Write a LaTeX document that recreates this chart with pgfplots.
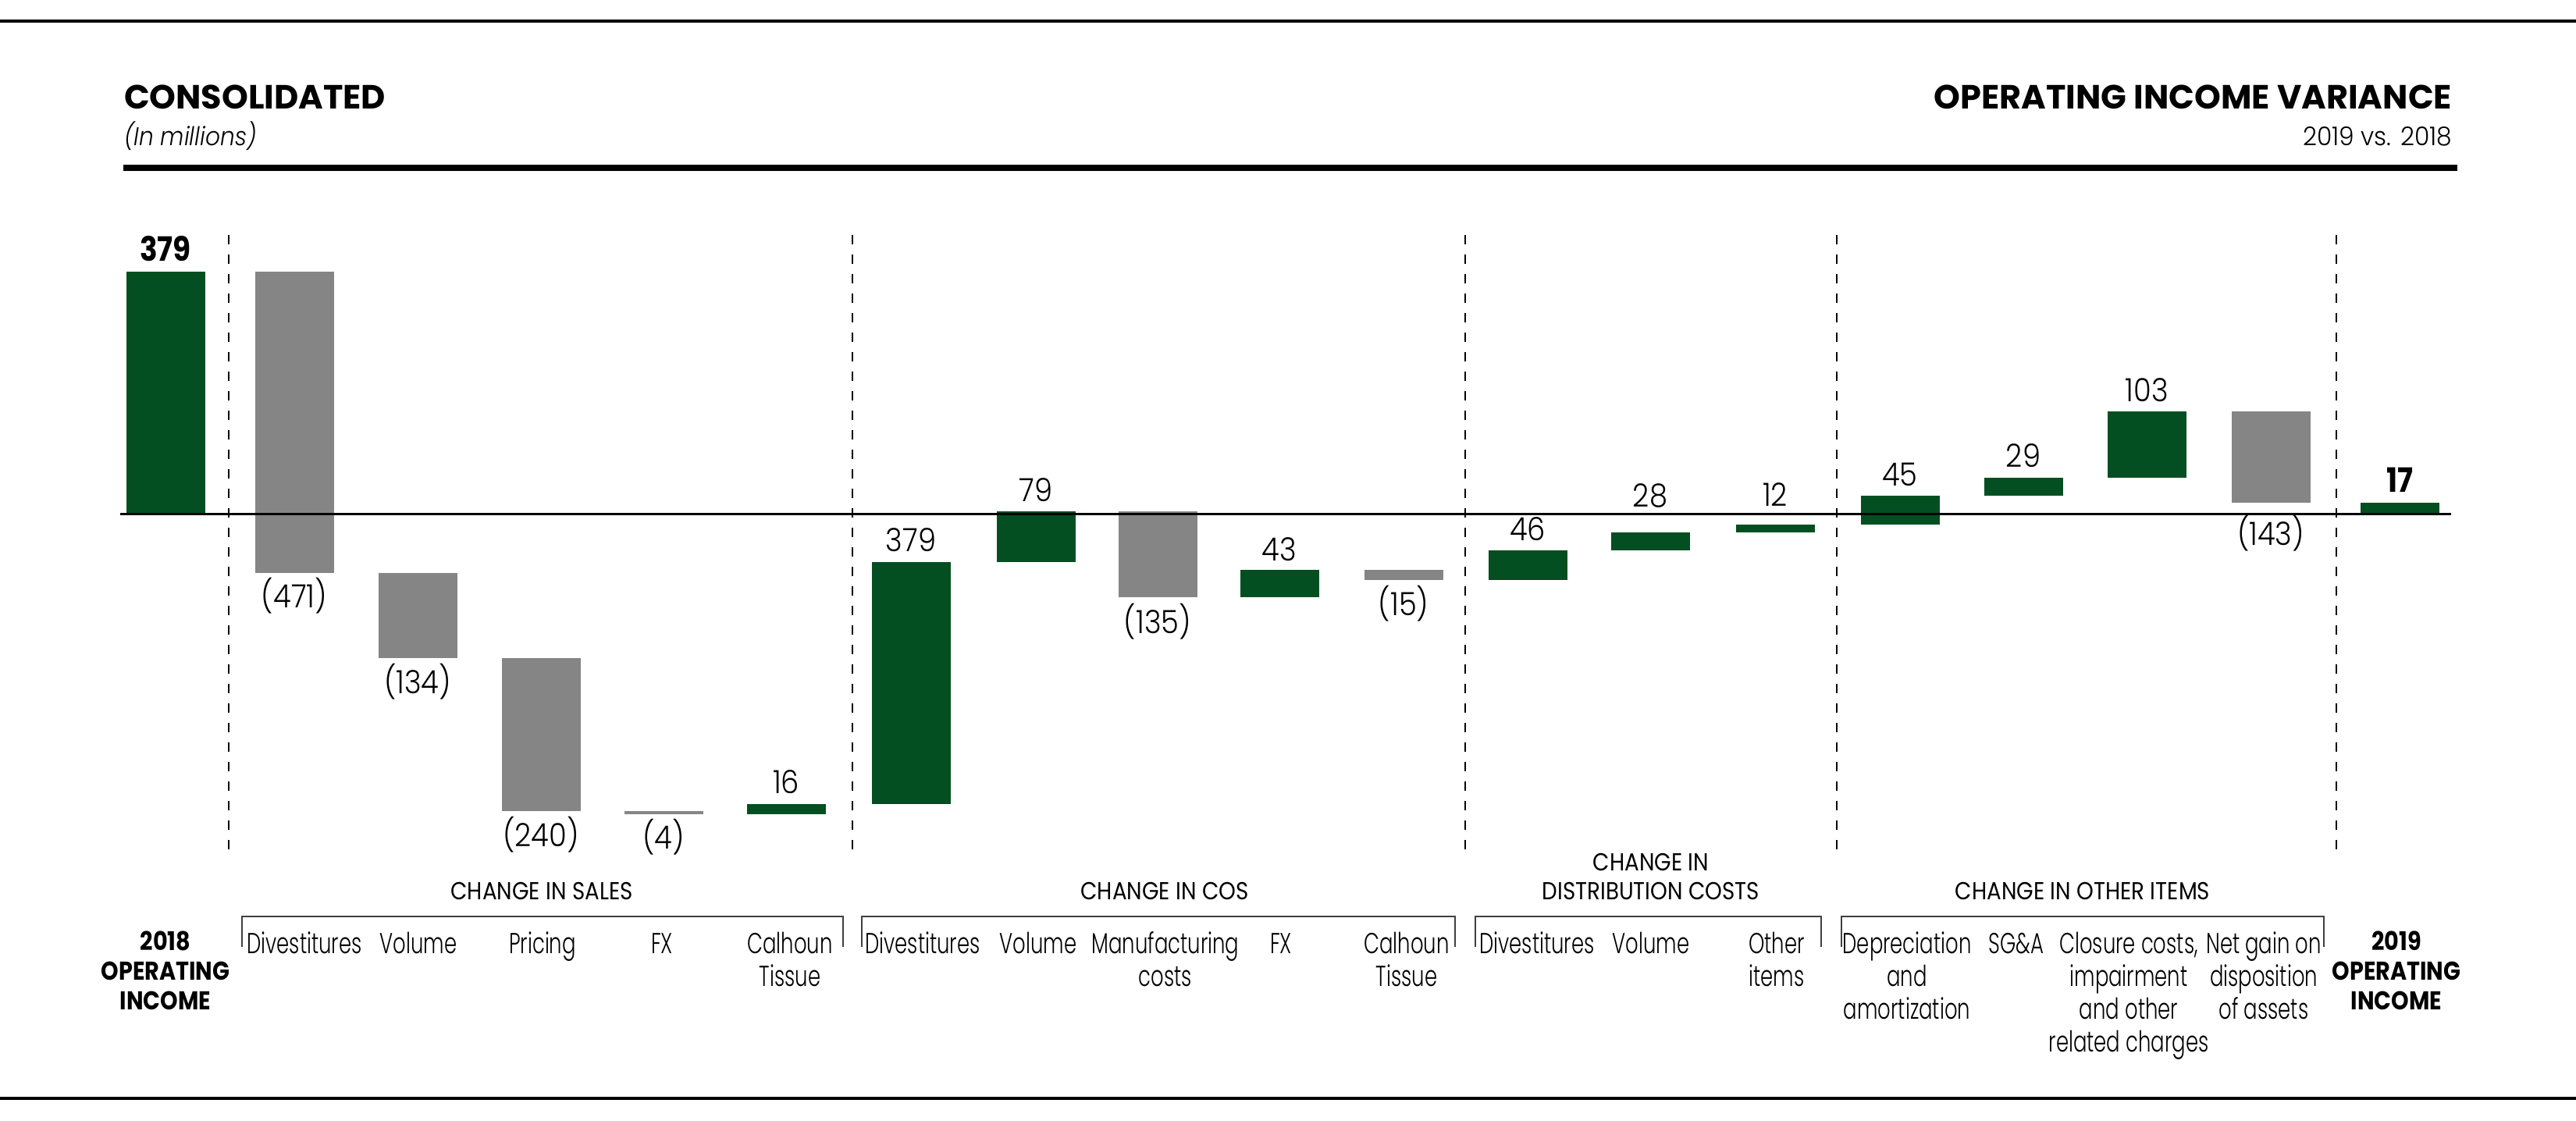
\documentclass[border=0pt]{standalone}
\usepackage{pgfplots}
\pgfplotsset{compat=1.18}
\usepackage{pgfplotstable}
\usepackage{fontspec}
\setmainfont{Poppins}
\newfontfamily\hbold{Poppins Bold}
\newfontfamily\tbold{Poppins Bold}[FakeStretch=0.87]
\newfontfamily\hlight{Poppins Light}[FakeStretch=0.95]
\newfontfamily\hlightit{Poppins Light Italic}[FakeStretch=0.9]
\newfontfamily\catfont{Poppins Light}[FakeStretch=0.7]
\newfontfamily\numfont{Poppins Light}[FakeStretch=0.9]
\newfontfamily\grpfont{Poppins}[FakeStretch=0.88]
\definecolor{fgreen}{HTML}{034F21}
\definecolor{fgray}{HTML}{858585}
\newcommand\ml[1]{\begin{tabular}[t]{@{}c@{}}#1\end{tabular}}

% waterfall bars: x position, lower end, rise (green), fall (gray)
\pgfplotstableread{
x low green gray
212 0 379 0
377 -92 0 471
535 -226 0 134
693 -466 0 240
850 -470 0 4
1007 -470 16 0
1167 -454 379 0
1327 -75 79 0
1483 -131 0 135
1639 -131 43 0
1798 -103 0 15
1957 -103 46 0
2114 -57 28 0
2274 -29 12 0
2434 -17 45 0
2592 28 29 0
2750 57 103 0
2909 17 0 143
3074 0 17 0
}\bars

\pgfplotstableread{
x y lab
377 -147 (471)
535 -281 (134)
693 -521 (240)
850 -525 (4)
1007 -438 16
1167 -59 379
1327 19 79
1483 -187 (135)
1639 -73 43
1798 -159 (15)
1957 -42 46
2114 11 28
2274 12 12
2434 44 45
2592 73 29
2750 176 103
2909 -49 (143)
}\labs

\pgfplotstableread{
x y lab
212 396 379
3074 34 17
}\tots

\pgfplotsset{wf/.style={scale only axis, width=660pt, height=287pt,
  xmin=0, xmax=3300, ymin=-949.5, ymax=804.8, hide axis, clip=false}}

\begin{document}
\begin{tikzpicture}
\useasboundingbox (0,0) rectangle (660pt,287pt);
\begin{axis}[wf]
\addplot[draw=none, mark=none, mark size=0pt, error bars/.cd, y dir=plus, y explicit, error mark=none,
  error bar style={draw=fgreen, line width=20.2pt, line cap=butt}]
  table[x=x, y=low, y error=green]{\bars};
\addplot[draw=none, mark=none, mark size=0pt, error bars/.cd, y dir=plus, y explicit, error mark=none,
  error bar style={draw=fgray, line width=20.2pt, line cap=butt}]
  table[x=x, y=low, y error=gray]{\bars};
\addplot[black, line width=0.5pt] coordinates {(154,0) (3140,0)};
\addplot[black, line width=0.4pt, dash pattern=on 2.4pt off 2.6pt] coordinates {(292.5,437) (292.5,-539)};
\addplot[black, line width=0.4pt, dash pattern=on 2.4pt off 2.6pt] coordinates {(1092,437) (1092,-539)};
\addplot[black, line width=0.4pt, dash pattern=on 2.4pt off 2.6pt] coordinates {(1877,437) (1877,-539)};
\addplot[black, line width=0.4pt, dash pattern=on 2.4pt off 2.6pt] coordinates {(2353,437) (2353,-539)};
\addplot[black, line width=0.4pt, dash pattern=on 2.4pt off 2.6pt] coordinates {(2993,437) (2993,-539)};
\addplot[only marks, mark=none, nodes near coords, point meta=explicit symbolic,
  nodes near coords style={anchor=base, inner sep=0pt, font=\numfont\fontsize{8.2pt}{9pt}\selectfont}]
  table[x=x, y=y, meta=lab]{\labs};
\addplot[only marks, mark=none, nodes near coords, point meta=explicit symbolic,
  nodes near coords style={anchor=base, inner sep=0pt, font=\tbold\fontsize{8.6pt}{10pt}\selectfont}]
  table[x=x, y=y, meta=lab]{\tots};
\end{axis}

% header
\draw[line width=0.8pt] (0,281.6pt) -- (660pt,281.6pt);
\node[anchor=base west, inner sep=0pt] at (31.6pt,259pt) {\hbold\fontsize{8.6pt}{10pt}\selectfont CONSOLIDATED};
\node[anchor=base west, inner sep=0pt] at (31.6pt,249.6pt) {\hlightit\fontsize{6.6pt}{8pt}\selectfont (In millions)};
\node[anchor=base east, inner sep=0pt] at (628.4pt,259pt) {\hbold\fontsize{8.6pt}{10pt}\selectfont OPERATING INCOME VARIANCE};
\node[anchor=base east, inner sep=0pt] at (628.4pt,249.6pt) {\hlight\fontsize{6.6pt}{8pt}\selectfont 2019 vs. 2018};
\draw[line width=1.6pt] (31.6pt,243.9pt) -- (629.6pt,243.9pt);
\draw[line width=0.8pt] (0,5.6pt) -- (660pt,5.6pt);

% group titles
\begin{scope}[every node/.style={inner sep=0pt, anchor=base, font=\grpfont\fontsize{6.3pt}{7.4pt}\selectfont}]
\node at (138.8pt,56.6pt) {CHANGE IN SALES};
\node at (298.4pt,56.6pt) {CHANGE IN COS};
\node at (423pt,64pt) {CHANGE IN};
\node at (423pt,56.6pt) {DISTRIBUTION COSTS};
\node at (533.6pt,56.6pt) {CHANGE IN OTHER ITEMS};
\end{scope}

% brackets
\begin{scope}[line width=0.3pt, draw=black!75]
\draw (62pt,44.4pt) -- (62pt,52.2pt) -- (216pt,52.2pt) -- (216pt,44.4pt);
\draw (220.8pt,44.4pt) -- (220.8pt,52.2pt) -- (372.8pt,52.2pt) -- (372.8pt,44.4pt);
\draw (378pt,44.4pt) -- (378pt,52.2pt) -- (466.6pt,52.2pt) -- (466.6pt,44.4pt);
\draw (471.8pt,44.4pt) -- (471.8pt,52.2pt) -- (595.4pt,52.2pt) -- (595.4pt,44.4pt);
\end{scope}

% category labels
\begin{scope}[every node/.style={inner sep=0pt, anchor=base, font=\catfont\fontsize{7.4pt}{8.4pt}\selectfont}]
\node at (78pt,42.8pt) {Divestitures};
\node at (107.2pt,42.8pt) {Volume};
\node at (139pt,42.8pt) {Pricing};
\node at (169.6pt,42.8pt) {FX};
\node at (202.4pt,42.8pt) {\ml{Calhoun\\Tissue}};
\node at (236.4pt,42.8pt) {Divestitures};
\node at (266pt,42.8pt) {Volume};
\node at (298.6pt,42.8pt) {\ml{Manufacturing\\costs}};
\node at (328.2pt,42.8pt) {FX};
\node at (360.4pt,42.8pt) {\ml{Calhoun\\Tissue}};
\node at (393.8pt,42.8pt) {Divestitures};
\node at (423pt,42.8pt) {Volume};
\node at (455.2pt,42.8pt) {\ml{Other\\items}};
\node at (488.6pt,42.8pt) {\ml{Depreciation\\and\\amortization}};
\node at (516.6pt,42.8pt) {SG\&A};
\node at (545.4pt,42.8pt) {\ml{Closure costs,\\impairment\\and other\\related charges}};
\node at (580pt,42.8pt) {\ml{Net gain on\\disposition\\of assets}};
\end{scope}

% totals labels
\begin{scope}[every node/.style={inner sep=0pt, anchor=base, font=\tbold\fontsize{6.6pt}{7.6pt}\selectfont}]
\node at (42.4pt,43.6pt) {\ml{2018\\OPERATING\\INCOME}};
\node at (614pt,43.6pt) {\ml{2019\\OPERATING\\INCOME}};
\end{scope}
\end{tikzpicture}
\end{document}
